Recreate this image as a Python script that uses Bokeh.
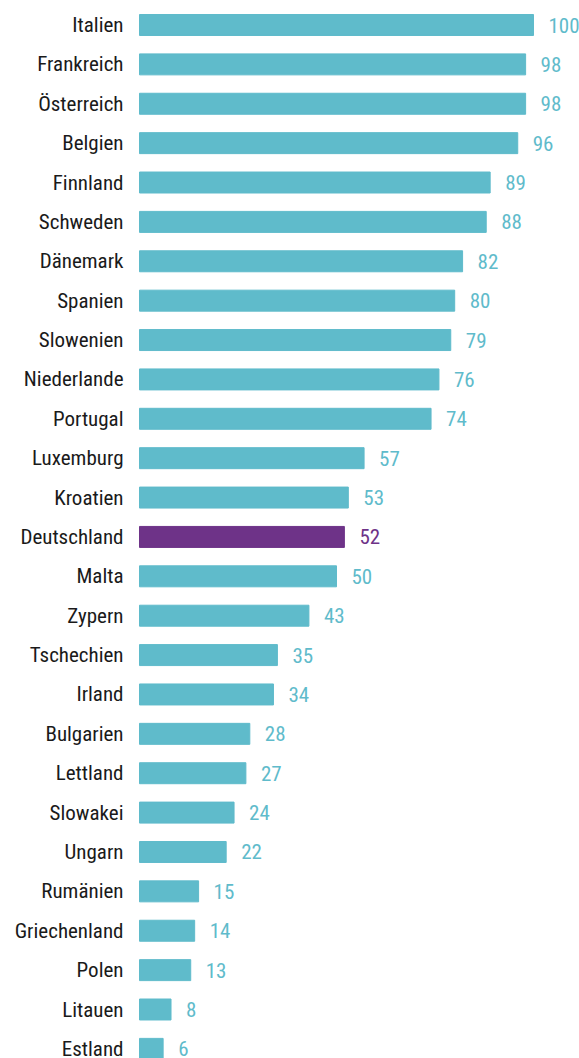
from bokeh.plotting import figure
from bokeh.models import ColumnDataSource, Range1d
from bokeh.core.properties import value
from bokeh.embed import file_html
from bokeh.resources import INLINE

countries = ["Italien", "Frankreich", "Österreich", "Belgien", "Finnland", "Schweden",
             "Dänemark", "Spanien", "Slowenien", "Niederlande", "Portugal", "Luxemburg",
             "Kroatien", "Deutschland", "Malta", "Zypern", "Tschechien", "Irland",
             "Bulgarien", "Lettland", "Slowakei", "Ungarn", "Rumänien", "Griechenland",
             "Polen", "Litauen", "Estland"]
values = [100, 98, 98, 96, 89, 88, 82, 80, 79, 76, 74, 57, 53, 52, 50, 43, 35, 34,
          28, 27, 24, 22, 15, 14, 13, 8, 6]
highlight = "Deutschland"

TEAL = "#5FBBCB"
PURPLE = "#6E3388"
FONT = "'Roboto Condensed', 'DejaVu Sans Condensed', 'Liberation Sans Narrow', Roboto, sans-serif"

colors = [PURPLE if c == highlight else TEAL for c in countries]
idx = list(range(len(countries)))
src = ColumnDataSource(dict(y=idx, v=values, c=countries, col=colors,
                            lbl=[str(v) for v in values], zero=[0] * len(values)))

W, H = 579, 1058
# bars start at x px 139, 100 units = 394 px; first row centre 24.5 px, row step 39.38 px
p = figure(width=W, height=H, output_backend="svg", toolbar_location=None,
           x_range=Range1d(-139 / 3.94, (W - 139) / 3.94),
           y_range=Range1d((H - 24.5) / 39.38, -24.5 / 39.38),
           min_border=0, min_border_left=0, min_border_right=0,
           min_border_top=0, min_border_bottom=0)
p.axis.visible = False
p.grid.visible = False
p.outline_line_color = None
p.background_fill_color = "white"
p.border_fill_color = "white"

p.hbar(y="y", left=0, right="v", height=0.533, color="col", source=src)

p.text(x="zero", y="y", text="c", source=src, text_align="right",
       text_baseline="middle", x_offset=-16, y_offset=0,
       text_font=value(FONT), text_font_size="21px", text_color="#1a1a1a")
p.text(x="v", y="y", text="lbl", source=src, text_align="left",
       text_baseline="middle", x_offset=15, y_offset=0,
       text_font=value(FONT), text_font_size="21px", text_color="col")

open("out.html", "w").write(file_html(p, INLINE))
